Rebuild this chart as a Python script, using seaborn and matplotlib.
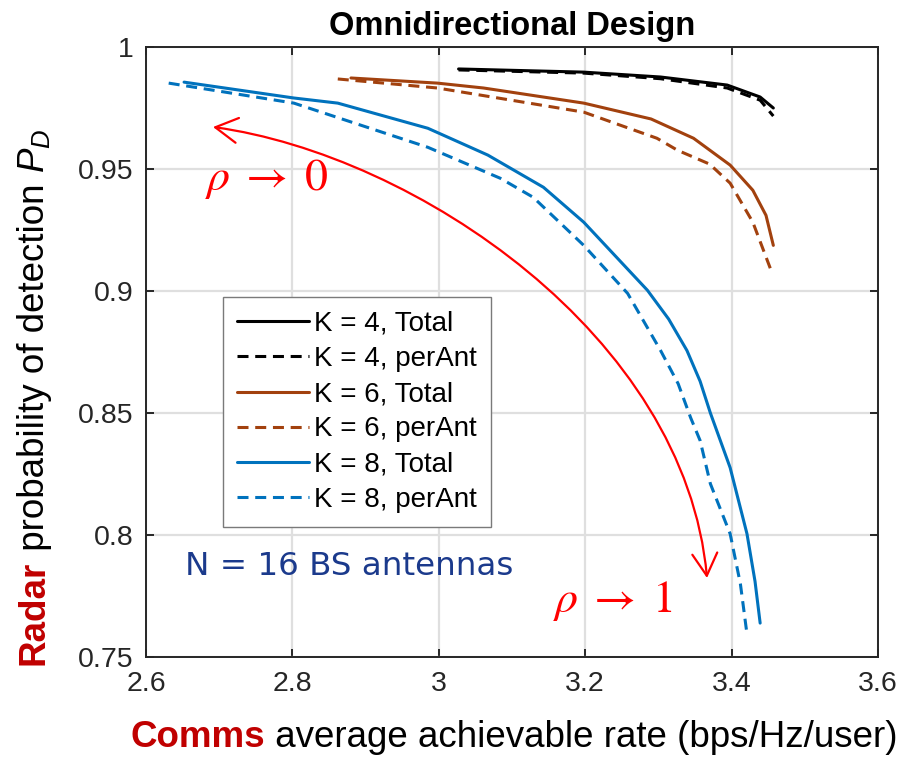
import matplotlib
matplotlib.use("Agg")
import matplotlib.pyplot as plt
from matplotlib.patches import FancyArrowPatch
from matplotlib.path import Path
from matplotlib.transforms import IdentityTransform
import seaborn as sns

# Trade-off curves: comms rate (bps/Hz/user) vs radar detection probability
k4_total_rate = [3.027, 3.198, 3.303, 3.394, 3.439, 3.457]
k4_total_pd = [0.9910, 0.9897, 0.9877, 0.9844, 0.9795, 0.9750]
k4_perant_rate = [3.027, 3.198, 3.303, 3.394, 3.439, 3.457]
k4_perant_pd = [0.9906, 0.9893, 0.9870, 0.9832, 0.9782, 0.9717]

k6_total_rate = [2.880, 2.998, 3.061, 3.198, 3.290, 3.348, 3.398, 3.429, 3.447, 3.457]
k6_total_pd = [0.9873, 0.9852, 0.9832, 0.9770, 0.9705, 0.9626, 0.9516, 0.9413, 0.9310, 0.9187]
k6_perant_rate = [2.862, 2.998, 3.198, 3.298, 3.326, 3.370, 3.398, 3.429, 3.455]
k6_perant_pd = [0.9869, 0.9832, 0.9733, 0.9626, 0.9577, 0.9520, 0.9442, 0.9282, 0.9076]

k8_total_rate = [2.652, 2.802, 2.862, 2.985, 3.067, 3.143, 3.198, 3.285, 3.314, 3.339,
                 3.357, 3.371, 3.398, 3.421, 3.432, 3.439]
k8_total_pd = [0.9856, 0.9791, 0.9770, 0.9667, 0.9557, 0.9425, 0.9282, 0.9003, 0.8885, 0.8756,
               0.8630, 0.8500, 0.8276, 0.8005, 0.7810, 0.7639]
k8_perant_rate = [2.631, 2.802, 2.985, 3.084, 3.129, 3.198, 3.258, 3.303, 3.327, 3.344,
                  3.357, 3.371, 3.398, 3.412, 3.421]
k8_perant_pd = [0.9852, 0.9770, 0.9589, 0.9462, 0.9384, 0.9187, 0.8990, 0.8756, 0.8620, 0.8481,
                0.8387, 0.8210, 0.8005, 0.7800, 0.7594]

series_labels = ["K = 4, Total", "K = 4, perAnt", "K = 6, Total",
                 "K = 6, perAnt", "K = 8, Total", "K = 8, perAnt"]

x_ticks = [2.6, 2.8, 3.0, 3.2, 3.4, 3.6]
x_tick_labels = ["2.6", "2.8", "3", "3.2", "3.4", "3.6"]
y_ticks = [0.75, 0.80, 0.85, 0.90, 0.95, 1.00]
y_tick_labels = ["0.75", "0.8", "0.85", "0.9", "0.95", "1"]

sns.set_theme(style="whitegrid")
plt.rcParams["font.family"] = ["Liberation Sans", "DejaVu Sans"]
plt.rcParams["mathtext.fontset"] = "custom"
plt.rcParams["mathtext.rm"] = "Liberation Sans"
plt.rcParams["mathtext.it"] = "Liberation Sans:italic"

BLACK = "#000000"
BROWN = "#A2410E"
BLUE = "#0072BD"
DASH = (0, (3.6, 2.2))

W, H = 910, 757
fig = plt.figure(figsize=(W / 100, H / 100), dpi=100)
ax = fig.add_axes([146 / W, 100 / H, 732 / W, 610 / H])

curves = [
    (k4_total_rate, k4_total_pd, BLACK, "-"),
    (k4_perant_rate, k4_perant_pd, BLACK, DASH),
    (k6_total_rate, k6_total_pd, BROWN, "-"),
    (k6_perant_rate, k6_perant_pd, BROWN, DASH),
    (k8_total_rate, k8_total_pd, BLUE, "-"),
    (k8_perant_rate, k8_perant_pd, BLUE, DASH),
]
for (xs, ys, color, ls), label in zip(curves, series_labels):
    sns.lineplot(x=xs, y=ys, ax=ax, sort=False, estimator=None, color=color,
                 linestyle=ls, linewidth=2.2, label=label)

ax.set_xlim(2.6, 3.6)
ax.set_ylim(0.75, 1.0)
ax.set_xticks(x_ticks)
ax.set_xticklabels(x_tick_labels)
ax.set_yticks(y_ticks)
ax.set_yticklabels(y_tick_labels)
ax.set_xlabel("")
ax.set_ylabel("")

ax.grid(True, color="#DFDFDF", linewidth=1.6)
ax.set_axisbelow(True)
for sp in ax.spines.values():
    sp.set_visible(True)
    sp.set_color("#262626")
    sp.set_linewidth(1.4)
ax.tick_params(axis="both", direction="in", length=6, width=1.4, color="#262626",
               labelcolor="#262626", labelsize=20.5, top=True, right=True,
               bottom=True, left=True)
ax.tick_params(axis="x", pad=10)
ax.tick_params(axis="y", pad=9)

ax.set_title("Omnidirectional Design", fontsize=23.5, fontweight="bold",
             color="#000000", pad=9)

leg = ax.legend(loc="upper left", bbox_to_anchor=(0.1052, 0.590), borderaxespad=0,
                fontsize=20, handlelength=2.6, handletextpad=0.18, borderpad=0.5,
                labelspacing=0.33, frameon=True, fancybox=False, framealpha=1)
leg.get_frame().set_edgecolor("#7A7A7A")
leg.get_frame().set_linewidth(1.0)
for t in leg.get_texts():
    t.set_color("#000000")

# Annotations inside the plot
fig.text(185 / W, (H - 575) / H, "N = 16 BS antennas", fontsize=23.4,
         family="DejaVu Sans", color="#1B3A8C", ha="left", va="baseline")
fig.text(205 / W, (H - 190) / H, r"$\rho\;\rightarrow\;0$", fontsize=33,
         color="#FF0000", math_fontfamily="stix", ha="left", va="baseline")
fig.text(553 / W, (H - 612) / H, r"$\rho\;\rightarrow\;1$", fontsize=33,
         color="#FF0000", math_fontfamily="stix", ha="left", va="baseline")

# Curved double-headed arrow sweeping rho from 0 to 1 (pixel coordinates)
px = IdentityTransform()
arc = Path([(213, H - 127), (415, H - 155), (685, H - 335), (707, H - 578)],
           [Path.MOVETO, Path.CURVE4, Path.CURVE4, Path.CURVE4])
arrow = FancyArrowPatch(path=arc, transform=px,
                        arrowstyle="<->,head_length=0.8,head_width=0.45",
                        mutation_scale=20, color="#FF0000", linewidth=1.6)
fig.patches.append(arrow)

# Two-tone axis labels, built piece by piece
renderer = fig.canvas.get_renderer()

x_pos = 130
for text, weight, color in [("Comms", "bold", "#C00000"),
                            (" average achievable rate (bps/Hz/user)", "normal", "#000000")]:
    t = fig.text(x_pos, 10, text, transform=px, fontsize=26.5, fontweight=weight,
                 color=color, ha="left", va="baseline")
    x_pos = t.get_window_extent(renderer).x1

y_pos = 92
for text, weight, color in [("Radar", "bold", "#C00000"),
                            (" probability of detection ", "normal", "#000000"),
                            (r"$P_D$", "normal", "#000000")]:
    t = fig.text(44, y_pos, text, transform=px, fontsize=26.5, fontweight=weight,
                 color=color, rotation=90, rotation_mode="anchor",
                 ha="left", va="baseline", math_fontfamily="custom")
    y_pos = t.get_window_extent(renderer).y1

fig.savefig("out.png", dpi=100)
